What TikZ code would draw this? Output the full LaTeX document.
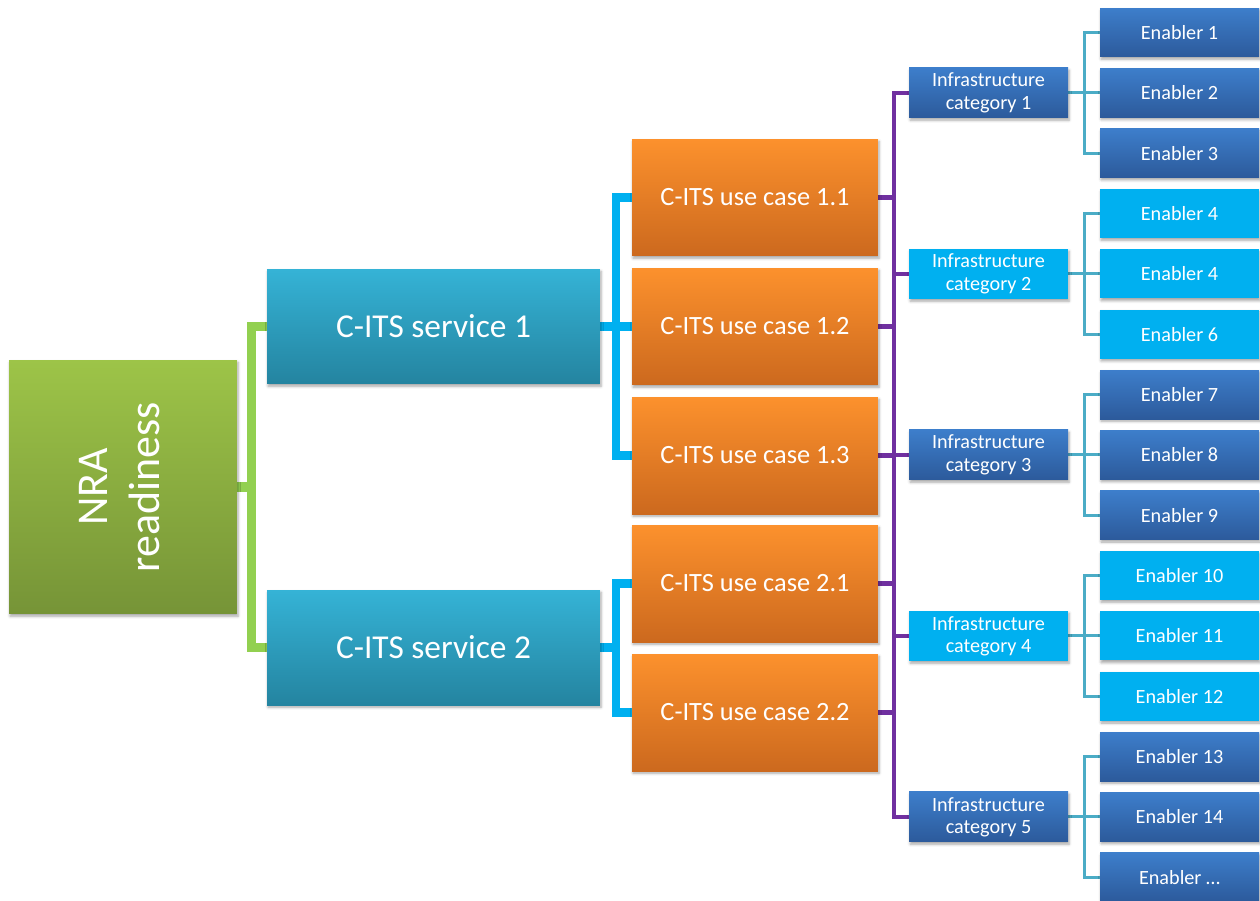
\documentclass[tikz,border=0pt]{standalone}
\usepackage{fontspec}
\setmainfont{Carlito}
\usepackage{tikz}
\usetikzlibrary{positioning,calc,backgrounds,shadows.blur}
\definecolor{rootTop}{RGB}{157, 196, 72}
\definecolor{rootBot}{RGB}{118, 148, 55}
\definecolor{servTop}{RGB}{53, 179, 214}
\definecolor{servBot}{RGB}{36, 132, 160}
\definecolor{caseTop}{RGB}{252, 145, 45}
\definecolor{caseBot}{RGB}{204, 105, 30}
\definecolor{darkTop}{RGB}{61, 126, 203}
\definecolor{darkBot}{RGB}{44, 90, 155}
\definecolor{lightBlue}{RGB}{0, 176, 240}
\definecolor{rootGreen}{RGB}{146, 208, 80}
\definecolor{servCyan}{RGB}{0, 176, 240}
\definecolor{casePurple}{RGB}{112, 48, 160}
\definecolor{catTeal}{RGB}{75, 172, 198}

\begin{document}
\begin{tikzpicture}[x=0.02cm, y=-0.02cm, node distance=0.227cm and 0.64cm,
		boxbase/.style={draw=none, inner sep=0pt, outer sep=0pt, text=white, align=center,
			blur shadow={shadow xshift=0.6pt, shadow yshift=-1.3pt, shadow blur radius=1.5pt, shadow opacity=35}},
		rootbox/.style={boxbase, minimum width=4.56cm, minimum height=5.08cm, top color=rootTop, bottom color=rootBot, font=\fontsize{25}{30}\selectfont},
		servbox/.style={boxbase, minimum width=6.66cm, minimum height=2.3cm, top color=servTop, bottom color=servBot, font=\fontsize{19}{23}\selectfont},
		casebox/.style={boxbase, minimum width=4.92cm, minimum height=2.34cm, top color=caseTop, bottom color=caseBot, font=\fontsize{15}{18}\selectfont},
		catbox/.style={boxbase, minimum width=3.18cm, minimum height=1cm, font=\fontsize{11.5}{12.6}\selectfont},
		enabbox/.style={boxbase, minimum width=3.18cm, minimum height=0.98cm, font=\fontsize{11.5}{14}\selectfont},
		darkfill/.style={top color=darkTop, bottom color=darkBot},
		lightfill/.style={fill=lightBlue},
		rootLine/.style={line width=0.19cm, color=rootGreen},
		servLine/.style={line width=0.17cm, color=servCyan},
		caseLine/.style={line width=0.085cm, color=casePurple},
		catLine/.style={line width=0.06cm, color=catTeal}
		]
	
	\useasboundingbox (0,0) rectangle (1260,900);
	
	% root and services
	\node [rootbox] (nra) at (123,487) {\rotatebox{90}{\begin{tabular}{@{}c@{}}NRA\\readiness\end{tabular}}};
	\node [servbox] (serv1) at (433.5,326.5) {C-ITS service 1};
	\node [servbox] (serv2) at (433.5,647.5) {C-ITS service 2};
	
	% use cases
	\node [casebox] (case11) at (755,197.5) {C-ITS use case 1.1};
	\node [casebox] (case12) at (755,326.5) {C-ITS use case 1.2};
	\node [casebox] (case13) at (755,455.5) {C-ITS use case 1.3};
	\node [casebox] (case21) at (755,583.5) {C-ITS use case 2.1};
	\node [casebox] (case22) at (755,712.5) {C-ITS use case 2.2};
	
	% enablers
	\node [enabbox, darkfill] (en1) at (1179.5,32.5) {Enabler 1};
	\node [enabbox, darkfill, below=of en1] (en2) {Enabler 2};
	\node [enabbox, darkfill, below=of en2] (en3) {Enabler 3};
	\node [enabbox, lightfill, below=of en3] (en4) {Enabler 4};
	\node [enabbox, lightfill, below=of en4] (en5) {Enabler 4};
	\node [enabbox, lightfill, below=of en5] (en6) {Enabler 6};
	\node [enabbox, darkfill, below=of en6] (en7) {Enabler 7};
	\node [enabbox, darkfill, below=of en7] (en8) {Enabler 8};
	\node [enabbox, darkfill, below=of en8] (en9) {Enabler 9};
	\node [enabbox, lightfill, below=of en9] (en10) {Enabler 10};
	\node [enabbox, lightfill, below=of en10] (en11) {Enabler 11};
	\node [enabbox, lightfill, below=of en11] (en12) {Enabler 12};
	\node [enabbox, darkfill, below=of en12] (en13) {Enabler 13};
	\node [enabbox, darkfill, below=of en13] (en14) {Enabler 14};
	\node [enabbox, darkfill, below=of en14] (en15) {Enabler …};
	
	% infrastructure categories
	\node [catbox, darkfill, left=of en2] (cat1) {Infrastructure\\category 1};
	\node [catbox, lightfill, left=of en5] (cat2) {Infrastructure\\category 2};
	\node [catbox, darkfill, left=of en8] (cat3) {Infrastructure\\category 3};
	\node [catbox, lightfill, left=of en11] (cat4) {Infrastructure\\category 4};
	\node [catbox, darkfill, left=of en14] (cat5) {Infrastructure\\category 5};
	
	\coordinate (rootbus) at (251.5,487);
	\coordinate (serv1bus) at (616,326.5);
	\coordinate (serv2bus) at (616,647.5);
	\coordinate (casebus) at (894,455.5);
	
	\begin{pgfonlayer}{background}
	\draw [rootLine] (serv1.west) -| (rootbus) |- (serv2.west);
	\draw [rootLine] (nra.east) -- (rootbus);
	
	\draw [servLine] (case11.west) -| (serv1bus) |- (case13.west);
	\draw [servLine] (serv1.east) -- (case12.west);
	\draw [servLine] (case21.west) -| (serv2bus) |- (case22.west);
	\draw [servLine] (serv2.east) -- (serv2bus);
	
	\draw [caseLine] (cat1.west) -| (casebus) |- (cat5.west);
	\draw [caseLine] (case11.east) -- (case11.east -| casebus);
	\draw [caseLine] (case12.east) -- (case12.east -| casebus);
	\draw [caseLine] (case13.east) -- (case13.east -| casebus);
	\draw [caseLine] (case21.east) -- (case21.east -| casebus);
	\draw [caseLine] (case22.east) -- (case22.east -| casebus);
	\draw [caseLine] (cat2.west) -- (cat2.west -| casebus);
	\draw [caseLine] (cat3.west) -- (cat3.west -| casebus);
	\draw [caseLine] (cat4.west) -- (cat4.west -| casebus);
	
	\draw [catLine] (en1.west) -| ($(cat1.east)!0.5!(en2.west)$) |- (en3.west);
	\draw [catLine] (cat1.east) -- (en2.west);
	\draw [catLine] (en4.west) -| ($(cat2.east)!0.5!(en5.west)$) |- (en6.west);
	\draw [catLine] (cat2.east) -- (en5.west);
	\draw [catLine] (en7.west) -| ($(cat3.east)!0.5!(en8.west)$) |- (en9.west);
	\draw [catLine] (cat3.east) -- (en8.west);
	\draw [catLine] (en10.west) -| ($(cat4.east)!0.5!(en11.west)$) |- (en12.west);
	\draw [catLine] (cat4.east) -- (en11.west);
	\draw [catLine] (en13.west) -| ($(cat5.east)!0.5!(en14.west)$) |- (en15.west);
	\draw [catLine] (cat5.east) -- (en14.west);
	\end{pgfonlayer}
\end{tikzpicture}
\end{document}
